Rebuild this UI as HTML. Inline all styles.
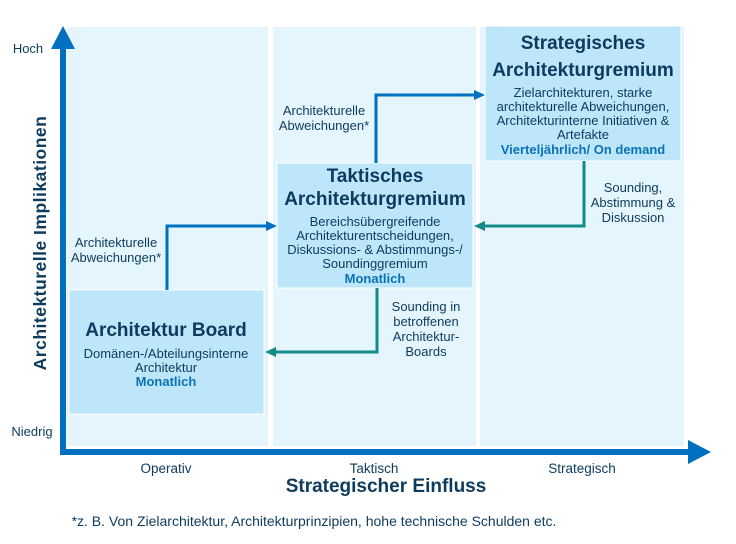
<!DOCTYPE html>
<html><head><meta charset="utf-8"><style>
html,body{margin:0;padding:0;background:#fff;}
svg{display:block;font-family:"Liberation Sans",sans-serif;}
</style></head><body>
<svg width="736" height="544" viewBox="0 0 736 544" xmlns="http://www.w3.org/2000/svg">
<rect x="67" y="27" width="201" height="419" fill="#e4f5fd"/>
<rect x="273" y="27" width="203" height="419" fill="#e4f5fd"/>
<rect x="480" y="27" width="204" height="419" fill="#e4f5fd"/>

<rect x="69" y="290" width="195" height="124" fill="#bde6fb" stroke="#fff" stroke-width="1"/>
<rect x="277" y="163" width="196" height="125" fill="#bde6fb" stroke="#fff" stroke-width="1"/>
<rect x="485" y="26" width="196" height="135" fill="#bde6fb" stroke="#fff" stroke-width="1"/>

<rect x="60" y="44" width="6" height="410" fill="#0070c0"/>
<polygon points="63,26 51,49 75,49" fill="#0070c0"/>
<rect x="60" y="449" width="636" height="6" fill="#0070c0"/>
<polygon points="711,452 688,440 688,464" fill="#0070c0"/>

<polyline points="167,290 167,226 268,226" fill="none" stroke="#0070c0" stroke-width="3"/>
<polygon points="277,226 266,221 266,231" fill="#0070c0"/>
<polyline points="376,163 376,95 476,95" fill="none" stroke="#0070c0" stroke-width="3"/>
<polygon points="485,95 474,90 474,100" fill="#0070c0"/>
<polyline points="584,161 584,226 482,226" fill="none" stroke="#148a8a" stroke-width="3"/>
<polygon points="474,226 485,221 485,231" fill="#148a8a"/>
<polyline points="377,288 377,352 273,352" fill="none" stroke="#148a8a" stroke-width="3"/>
<polygon points="265,352 276,347 276,357" fill="#148a8a"/>

<g fill="#0d3b5e" text-anchor="middle">
<text x="28" y="53" font-size="13">Hoch</text>
<text x="32" y="436" font-size="13">Niedrig</text>
<text transform="translate(46,243) rotate(-90)" font-size="17.5" font-weight="bold" letter-spacing="0.5">Architekturelle  Implikationen</text>
<text x="166" y="473" font-size="13.5">Operativ</text>
<text x="374" y="473" font-size="13.5">Taktisch</text>
<text x="582" y="473" font-size="13.5">Strategisch</text>
<text x="386" y="492" font-size="19" font-weight="bold">Strategischer Einfluss</text>
<text x="314" y="526" font-size="14">*z. B. Von Zielarchitektur, Architekturprinzipien, hohe technische Schulden etc.</text>

<text x="116" y="247" font-size="13">Architekturelle</text>
<text x="116" y="262" font-size="13">Abweichungen*</text>
<text x="324" y="115" font-size="13">Architekturelle</text>
<text x="324" y="130" font-size="13">Abweichungen*</text>
<text x="633" y="192" font-size="13">Sounding,</text>
<text x="633" y="207" font-size="13">Abstimmung &amp;</text>
<text x="633" y="222" font-size="13">Diskussion</text>
<text x="426" y="311" font-size="13">Sounding in</text>
<text x="426" y="326" font-size="13">betroffenen</text>
<text x="426" y="341" font-size="13">Architektur-</text>
<text x="426" y="356" font-size="13">Boards</text>

<text x="166" y="336" font-size="19" font-weight="bold">Architektur Board</text>
<text x="166" y="358" font-size="13">Domänen-/Abteilungsinterne</text>
<text x="166" y="372" font-size="13">Architektur</text>
<text x="166" y="386" font-size="13" font-weight="bold" fill="#0b72b5">Monatlich</text>

<text x="375" y="182" font-size="19" font-weight="bold">Taktisches</text>
<text x="375" y="205" font-size="19" font-weight="bold">Architekturgremium</text>
<text x="375" y="226" font-size="13">Bereichsübergreifende</text>
<text x="375" y="240" font-size="13">Architekturentscheidungen,</text>
<text x="375" y="254" font-size="13">Diskussions- &amp; Abstimmungs-/</text>
<text x="375" y="268" font-size="13">Soundinggremium</text>
<text x="375" y="283" font-size="13" font-weight="bold" fill="#0b72b5">Monatlich</text>

<text x="583" y="49" font-size="19" font-weight="bold">Strategisches</text>
<text x="583" y="76" font-size="19" font-weight="bold">Architekturgremium</text>
<text x="583" y="97" font-size="13">Zielarchitekturen, starke</text>
<text x="583" y="111" font-size="13">architekturelle Abweichungen,</text>
<text x="583" y="125" font-size="13">Architekturinterne Initiativen &amp;</text>
<text x="583" y="139" font-size="13">Artefakte</text>
<text x="583" y="154" font-size="13" font-weight="bold" fill="#0b72b5">Vierteljährlich/ On demand</text>
</g>
</svg>
</body></html>
